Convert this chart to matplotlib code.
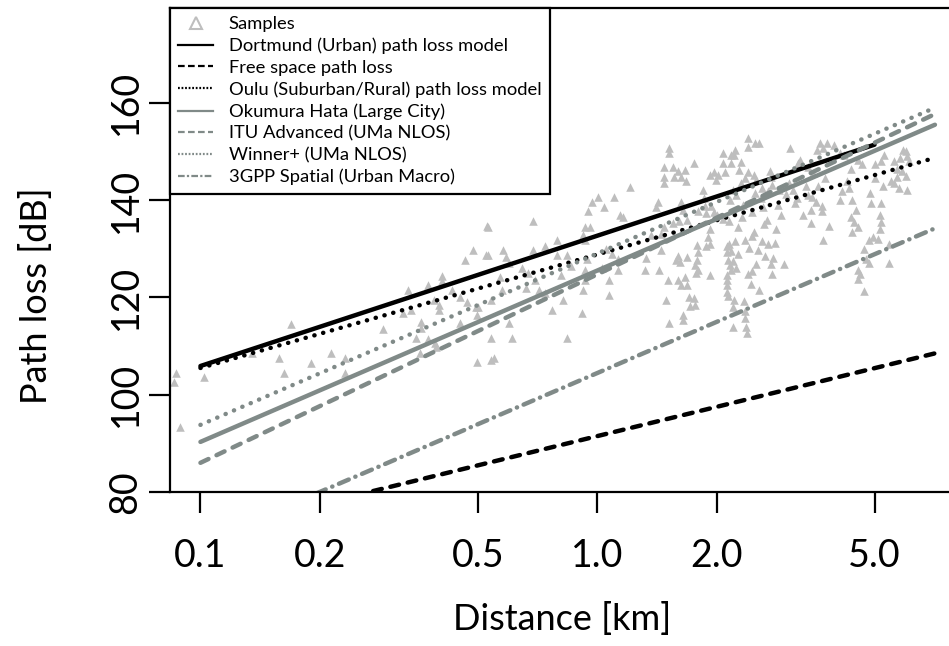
import matplotlib
matplotlib.use("Agg")
import matplotlib.pyplot as plt
from matplotlib.lines import Line2D

plt.rcParams["font.family"] = ["Lato", "DejaVu Sans"]

# ── measured samples (distance in km, path loss in dB) ───────────────────────
sample_km = [
    0.087, 0.086, 0.089, 0.102, 0.135, 0.158, 0.162, 0.169, 0.19, 0.213,
    0.232, 0.232, 0.288, 0.324, 0.334, 0.34, 0.35, 0.357, 0.36, 0.36,
    0.374, 0.374, 0.39, 0.393, 0.40, 0.40, 0.406, 0.406, 0.387, 0.43,
    0.45, 0.463, 0.486, 0.497, 0.495, 0.497, 0.527, 0.525, 0.54, 0.45,
    0.47, 0.50,
    0.97, 1.006, 1.10, 1.04, 0.95, 1.16, 0.69, 0.53, 0.93, 0.96,
    0.92, 0.93, 0.79, 0.74, 0.69, 0.58, 0.59, 0.53, 0.79, 0.84,
    0.60, 0.645, 0.67, 0.57, 0.695, 0.81, 0.93, 1.03, 1.13, 0.93,
    1.07, 0.575, 0.54, 0.715, 0.92, 1.07, 0.82, 0.77, 0.915, 0.60,
    0.54, 0.61, 0.84, 0.55, 0.66, 0.74, 0.86, 0.94, 1.05, 1.09,
    1.13,
    1.52, 1.52, 1.75, 2.07, 2.21, 2.07, 1.47, 1.55, 1.60, 1.56,
    1.47, 1.47, 1.63, 1.66, 1.67, 1.97, 1.99, 1.92, 2.02, 2.10,
    2.17, 1.21, 1.42, 1.41, 1.14, 1.63, 1.65, 1.68, 1.61, 1.55,
    1.47, 1.45, 1.85, 1.86, 1.87, 1.88, 1.94, 1.97, 2.00, 2.08,
    2.15, 1.80, 1.37, 1.45, 1.60, 1.58, 1.62, 1.68, 1.78, 1.80,
    1.78, 1.76, 1.80, 1.88, 1.90, 1.92, 1.93, 2.12, 2.12, 2.14,
    2.16, 2.18, 1.33, 1.32, 1.43, 1.77, 1.92, 1.51, 1.63, 1.60,
    1.68, 1.66, 1.70, 1.75, 1.76, 1.71, 1.49, 1.65, 1.65, 1.52,
    2.21,
    2.40, 2.40, 2.50, 2.56, 3.07, 3.65, 3.80, 3.95, 3.70, 3.58,
    2.18, 2.22, 2.30, 2.28, 3.20, 3.25, 3.40, 2.40, 2.48, 2.36,
    2.52, 2.72, 2.74, 2.76, 2.60, 2.70, 2.88, 3.00, 3.12, 3.18,
    3.40, 2.20, 2.24, 2.16, 3.48, 3.55, 3.68, 3.68, 3.45, 3.30,
    3.46, 3.85, 4.13, 4.10, 2.15, 2.22, 2.18, 2.26, 2.20, 2.24,
    2.36, 2.46, 2.60, 2.70, 2.80, 2.42, 2.55, 2.65, 2.78, 2.52,
    2.74, 2.95, 2.40, 2.46, 2.44, 2.75, 2.12, 2.12, 2.12, 2.12,
    2.14, 2.56, 2.20, 2.35, 2.36, 2.36, 2.37, 2.38, 3.71, 2.20,
    4.10, 4.20, 4.55, 4.65, 4.35, 5.00, 5.20, 5.28, 5.60, 5.90,
    6.00, 5.80, 5.70, 5.60, 4.25, 4.30, 4.40, 4.50, 4.35, 4.45,
    4.55, 4.40, 4.86, 4.90, 5.20, 5.15, 5.20, 5.15, 4.95, 4.85,
    5.10, 5.45, 4.70, 4.75, 4.85, 5.45, 4.55, 4.60, 4.55, 4.70,
    6.05, 6.10, 5.85, 5.70, 6.00, 5.75, 6.05, 5.00, 5.50, 5.25,
    2.30, 2.33, 2.45, 2.50, 2.58, 2.62, 2.68, 2.85, 2.90, 3.05,
    3.15, 3.35, 3.50, 3.60, 3.75, 2.26, 2.32, 2.48, 2.64, 2.82,
]
sample_db = [
    104.5, 102.6, 93.4, 103.6, 108.6, 107.5, 104.5, 114.5, 106.5, 108.6,
    107.5, 104.5, 113.5, 116.8, 121.5, 117.4, 111.7, 108.6, 115.0, 113.7,
    122.5, 111.4, 110.6, 109.8, 118.4, 117.4, 124.4, 123.4, 119.5, 121.5,
    114.7, 127.7, 129.7, 116.4, 118.0, 106.7, 134.7, 128.7, 107.1, 120.0,
    119.0, 118.0,
    139.6, 140.6, 140.6, 138.6, 137.8, 136.5, 135.7, 134.5, 134.5, 134.5,
    132.8, 131.8, 131.8, 130.6, 129.7, 129.7, 128.3, 128.7, 128.7, 128.7,
    127.1, 126.1, 125.0, 124.2, 123.6, 124.6, 125.6, 126.1, 125.6, 123.6,
    123.6, 121.5, 119.5, 121.5, 121.5, 120.5, 119.5, 117.4, 116.8, 114.7,
    111.7, 111.7, 111.7, 107.5, 122.0, 121.0, 126.5, 128.0, 130.0, 129.0,
    128.0,
    150.7, 149.6, 147.6, 149.7, 149.3, 147.6, 146.8, 146.8, 146.0, 144.7,
    144.7, 143.6, 144.7, 146.2, 144.0, 145.8, 144.1, 145.2, 145.2, 145.8,
    147.6, 142.7, 139.6, 138.6, 136.9, 139.6, 138.0, 136.0, 135.7, 135.2,
    134.4, 133.0, 142.1, 140.4, 138.8, 137.4, 138.8, 137.6, 136.9, 136.2,
    135.7, 137.8, 132.8, 129.7, 128.6, 127.7, 127.3, 128.3, 130.8, 129.4,
    127.7, 126.7, 125.6, 130.6, 132.4, 134.0, 131.0, 130.6, 129.3, 127.7,
    126.7, 125.6, 128.1, 125.6, 125.6, 125.0, 124.6, 123.6, 122.5, 123.5,
    122.5, 124.2, 120.0, 119.8, 118.5, 118.2, 119.5, 116.4, 115.3, 114.7,
    119.5,
    152.8, 150.9, 151.7, 151.7, 150.7, 151.7, 151.7, 151.3, 150.7, 150.3,
    149.3, 150.3, 147.9, 146.2, 147.6, 148.2, 146.8, 145.8, 145.2, 144.6,
    144.1, 146.0, 144.7, 143.2, 142.4, 141.8, 142.0, 141.2, 142.1, 140.4,
    141.0, 142.0, 141.0, 140.0, 140.6, 139.6, 138.8, 137.8, 138.0, 137.0,
    135.4, 134.6, 141.8, 140.0, 131.0, 131.6, 129.6, 129.0, 127.5, 126.0,
    131.8, 132.6, 131.5, 131.0, 131.2, 130.2, 129.7, 128.6, 128.2, 126.8,
    126.8, 126.8, 124.8, 125.5, 122.8, 124.8, 124.6, 123.5, 122.5, 121.2,
    120.2, 121.5, 118.0, 119.2, 117.2, 115.8, 114.0, 112.6, 131.8, 114.0,
    149.6, 149.3, 148.2, 147.4, 146.4, 147.4, 148.0, 149.3, 148.0, 150.3,
    150.0, 148.7, 146.5, 143.5, 144.0, 142.4, 140.0, 138.0, 136.5, 135.5,
    134.5, 133.5, 141.4, 139.4, 139.4, 137.0, 135.5, 134.0, 132.5, 131.8,
    132.0, 131.0, 130.0, 128.0, 127.0, 127.0, 125.6, 124.8, 123.8, 121.4,
    149.0, 148.0, 146.0, 144.8, 145.0, 142.5, 142.0, 144.5, 144.0, 143.0,
    143.5, 139.0, 137.5, 141.5, 140.5, 138.5, 136.0, 139.0, 137.0, 143.5,
    139.5, 143.0, 145.5, 143.0, 144.5, 134.5, 136.5, 133.5, 135.0, 134.0,
]

# ── model curves, read at both ends (km, dB) ─────────────────────────────────
dortmund_km, dortmund_db = [0.1, 5.0], [105.9, 151.4]
fspl_km, fspl_db = [0.1, 7.1], [71.5, 108.5]
oulu_km, oulu_db = [0.1, 7.1], [105.5, 148.7]
hata_km, hata_db = [0.1, 7.1], [90.3, 155.5]
itu_km, itu_db = [0.1, 7.1], [86.0, 157.7]
winner_km, winner_db = [0.1, 7.1], [93.8, 159.0]
spatial_km, spatial_db = [0.1, 7.1], [69.5, 134.2]

x_ticks = [0.1, 0.2, 0.5, 1.0, 2.0, 5.0]
x_tick_labels = ["0.1", "0.2", "0.5", "1.0", "2.0", "5.0"]
y_ticks = [80, 100, 120, 140, 160]

legend_labels = [
    "Samples",
    "Dortmund (Urban) path loss model",
    "Free space path loss",
    "Oulu (Suburban/Rural) path loss model",
    "Okumura Hata (Large City)",
    "ITU Advanced (UMa NLOS)",
    "Winner+ (UMa NLOS)",
    "3GPP Spatial (Urban Macro)",
]

GREY = "#808a88"
PTS = "#bebebe"
DASH = (0, (2.0, 2.0))
DOT = (0, (0.05, 2.0))
DASHDOT = (0, (2.4, 1.6, 0.05, 1.6))

W, H = 949, 646
fig = plt.figure(figsize=(W / 100, H / 100), dpi=100)
ax = fig.add_axes([170 / W, 154 / H, 1 - 170 / W + 0.01, 484 / H])

ax.scatter(sample_km, sample_db, marker="^", s=38, color=PTS,
           linewidths=0, zorder=1)

curves = [
    (dortmund_km, dortmund_db, "black", "-"),
    (fspl_km, fspl_db, "black", DASH),
    (oulu_km, oulu_db, "black", DOT),
    (hata_km, hata_db, GREY, "-"),
    (itu_km, itu_db, GREY, DASH),
    (winner_km, winner_db, GREY, DOT),
    (spatial_km, spatial_db, GREY, DASHDOT),
]
for km, db, col, ls in curves:
    ax.plot(km, db, color=col, linestyle=ls, linewidth=3.2,
            dash_capstyle="round", solid_capstyle="round", zorder=2)

ax.set_xscale("log")
ax.set_xlim(0.0838, 8.14)
ax.set_ylim(80, 179.5)
ax.set_xticks(x_ticks)
ax.set_xticklabels(x_tick_labels)
ax.minorticks_off()
ax.set_yticks(y_ticks)
ax.set_yticklabels([str(v) for v in y_ticks], rotation=90, va="center")

for side in ["left", "top", "bottom"]:
    ax.spines[side].set_linewidth(1.6)
ax.spines["right"].set_visible(False)
ax.tick_params(axis="both", direction="out", length=15, width=1.6,
               labelsize=27, pad=4)
ax.tick_params(axis="x", pad=18)

ax.set_xlabel("Distance [km]", fontsize=26)
ax.set_ylabel("Path loss [dB]", fontsize=26)
ax.xaxis.set_label_coords(0.497, -0.228)
ax.yaxis.set_label_coords(-0.148, 0.405)

# legend uses thin lines like R's legend()
handles = [
    Line2D([], [], marker="^", linestyle="none", mfc="none", mec=PTS,
           markersize=8, markeredgewidth=1.5),
    Line2D([], [], color="black", lw=1.6),
    Line2D([], [], color="black", lw=1.6, linestyle=(0, (3, 1.5))),
    Line2D([], [], color="black", lw=1.6, linestyle=(0, (0.8, 0.8))),
    Line2D([], [], color=GREY, lw=1.6),
    Line2D([], [], color=GREY, lw=1.6, linestyle=(0, (3, 1.5))),
    Line2D([], [], color=GREY, lw=1.6, linestyle=(0, (0.8, 0.8))),
    Line2D([], [], color=GREY, lw=1.6, linestyle=(0, (3, 1, 1, 1))),
]
leg = ax.legend(handles, legend_labels, loc="upper left",
                bbox_to_anchor=(0, 1), borderaxespad=0, fontsize=13.2,
                handlelength=1.9, handletextpad=0.85, labelspacing=0.3,
                borderpad=0.45, fancybox=False, framealpha=1,
                edgecolor="black")
leg.get_frame().set_linewidth(1.6)

fig.savefig("out.png", dpi=100)
